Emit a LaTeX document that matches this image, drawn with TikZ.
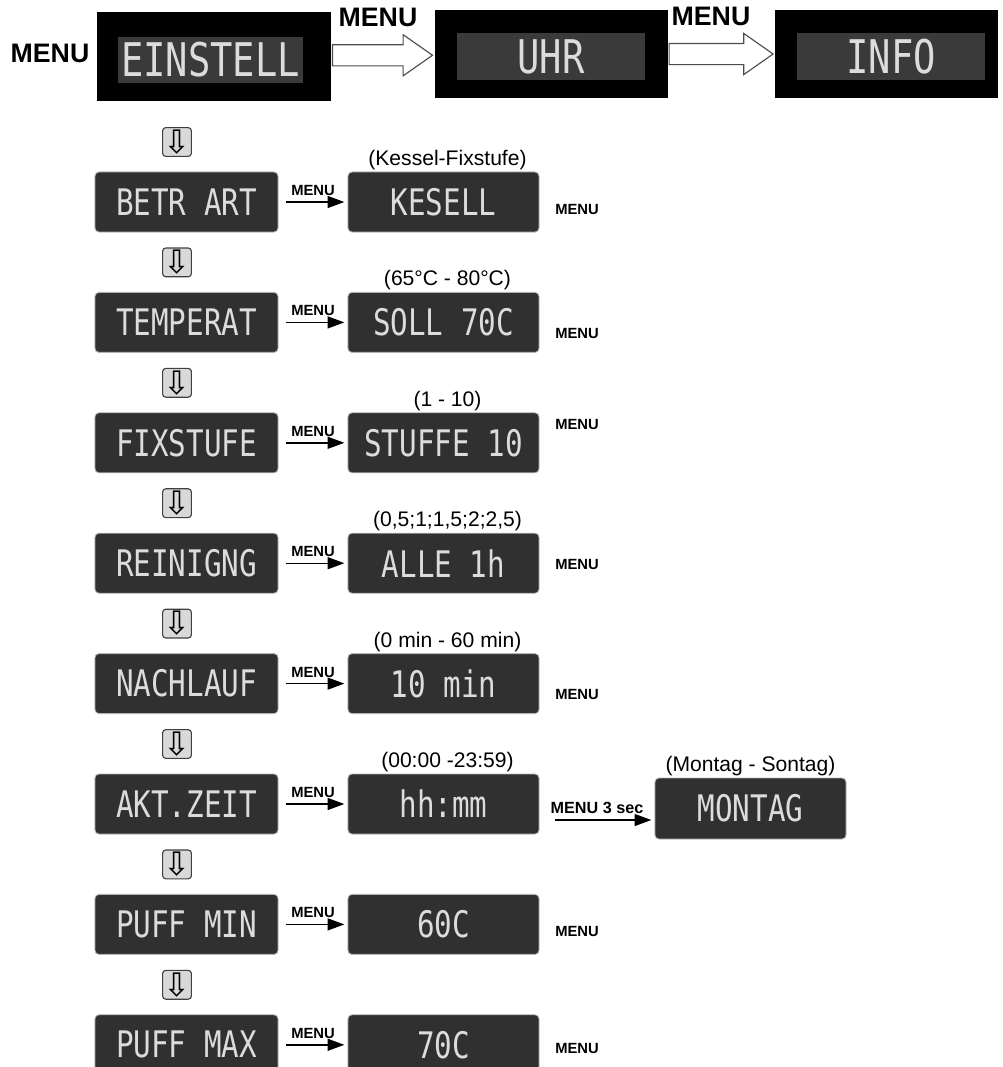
\documentclass[tikz,border=0pt]{standalone}
\usepackage{fontspec}
\setmainfont{Liberation Sans}
\newfontfamily\lcdfont{DejaVu Sans Mono}
\newfontfamily\symfont{DejaVu Sans}
\usepackage{graphicx}
\usetikzlibrary{calc, arrows.meta, positioning, shapes.arrows}
\definecolor{lcdbg}{HTML}{303030}
\definecolor{lcdtxt}{HTML}{DCDCDC}
\definecolor{scrbg}{HTML}{3A3A3A}
\newcommand{\lcd}[2][26]{\scalebox{0.8}[1]{\lcdfont\fontsize{#1}{#1}\selectfont #2}}

\begin{document}
\begin{tikzpicture}[x=0.025cm, y=-0.025cm,
  frame/.style={fill=black, minimum width=5.83cm, minimum height=2.2cm, inner sep=0pt},
  screen/.style={fill=scrbg, text=lcdtxt, minimum width=4.7cm, minimum height=1.17cm, inner sep=0pt},
  lcdbox/.style={rounded corners=0.1cm, draw=gray!60, line width=0.6pt, fill=lcdbg, text=lcdtxt, minimum width=4.575cm, minimum height=1.5cm, inner sep=0pt},
  valbox/.style={lcdbox, minimum width=4.775cm},
  downkey/.style={rounded corners=0.08cm, draw=black!75, line width=0.8pt, fill=gray!30, minimum size=0.72cm, inner sep=0pt, font=\symfont\fontsize{23}{23}\selectfont},
  hollow/.style={single arrow, draw=black!70, line width=0.8pt, fill=white, minimum width=1cm, single arrow head extend=0.25cm, single arrow tip angle=70, inner xsep=0pt, inner ysep=0.25cm},
  link/.style={line width=1pt, -{Triangle[length=0.42cm, width=0.3cm]}, shorten <=0.18cm, shorten >=0.08cm},
  key/.style={font=\bfseries\fontsize{10.5}{12}\selectfont},
  bigkey/.style={font=\bfseries\fontsize{19}{22}\selectfont, inner sep=0pt},
  spanlabel/.style={font=\fontsize{15}{17}\selectfont, inner sep=1pt, xshift=0.1cm}]
  \clip (0,0) rectangle (1002,1067);
  \fill[white] (0,0) rectangle (1002,1067);

  % top menu level
  \node[frame, minimum width=5.85cm, minimum height=2.225cm] (einstellF) at (214,56.5) {};
  \node[screen, minimum width=4.6cm, minimum height=1.15cm] (einstell) at (210.5,60) {\lcd[33]{EINSTELL}};
  \node[frame] (uhrF) at (551.5,54) {};
  \node[screen] (uhr) at (551,56.5) {\lcd[33]{UHR}};
  \node[frame, minimum width=5.575cm] (infoF) at (886.5,54) {};
  \node[screen] (info) at (891,56.5) {\lcd[33]{INFO}};
  \node[bigkey] (menu0) at (50,53) {MENU};
  \node[hollow, minimum height=2.5cm, xshift=-0.2cm] (arr1) at ($(einstellF.east)!0.5!(uhrF.west)$) {};
  \node[hollow, minimum height=2.6cm, xshift=-0.2cm] (arr2) at ($(uhrF.east)!0.5!(infoF.west)$) {};
  \node[bigkey] (menu1) at (378,17) {MENU};
  \node[bigkey] (menu2) at (711,16) {MENU};

  % Betriebsart
  \node[downkey] (k0) at (177,142) {⇩};
  \node[lcdbox] (betr) at (186.5,202) {\lcd{BETR ART}};
  \node[valbox] (kesell) at (443.5,202) {\lcd{KESELL}};
  \node[spanlabel, above=0pt of kesell] (r0) {(Kessel-Fixstufe)};
  \draw[link] (betr) -- node[key, above, inner sep=4pt] (m0) {MENU} (kesell);
  \node[key] (n0) at (577,209) {MENU};

  % Temperatur
  \node[downkey] (k1) at (177,262.4) {⇩};
  \node[lcdbox] (temp) at (186.5,322.4) {\lcd{TEMPERAT}};
  \node[valbox] (soll) at (443.5,322.4) {\lcd{SOLL 70C}};
  \node[spanlabel, above=0pt of soll] (r1) {(65°C - 80°C)};
  \draw[link] (temp) -- node[key, above, inner sep=4pt] (m1) {MENU} (soll);
  \node[key] (n1) at (577,333) {MENU};

  % Fixstufe
  \node[downkey] (k2) at (177,382.8) {⇩};
  \node[lcdbox] (fix) at (186.5,442.8) {\lcd{FIXSTUFE}};
  \node[valbox] (stufe) at (443.5,442.8) {\lcd{STUFFE 10}};
  \node[spanlabel, above=0pt of stufe] (r2) {(1 - 10)};
  \draw[link] (fix) -- node[key, above, inner sep=4pt] (m2) {MENU} (stufe);
  \node[key] (n2) at (577,424) {MENU};

  % Reinigung
  \node[downkey] (k3) at (177,503.2) {⇩};
  \node[lcdbox] (rein) at (186.5,563.2) {\lcd{REINIGNG}};
  \node[valbox] (alle) at (443.5,563.2) {\lcd{ALLE 1h}};
  \node[spanlabel, above=0pt of alle] (r3) {(0,5;1;1,5;2;2,5)};
  \draw[link] (rein) -- node[key, above, inner sep=4pt] (m3) {MENU} (alle);
  \node[key] (n3) at (577,564) {MENU};

  % Nachlauf
  \node[downkey] (k4) at (177,623.6) {⇩};
  \node[lcdbox] (nach) at (186.5,683.6) {\lcd{NACHLAUF}};
  \node[valbox] (min10) at (443.5,683.6) {\lcd{10 min}};
  \node[spanlabel, above=0pt of min10] (r4) {(0 min - 60 min)};
  \draw[link] (nach) -- node[key, above, inner sep=4pt] (m4) {MENU} (min10);
  \node[key] (n4) at (577,694) {MENU};

  % Uhrzeit und Wochentag
  \node[downkey] (k5) at (177,744) {⇩};
  \node[lcdbox] (zeit) at (186.5,804) {\lcd{AKT.ZEIT}};
  \node[valbox] (hhmm) at (443.5,804) {\lcd{hh:mm}};
  \node[spanlabel, above=0pt of hhmm] (r5) {(00:00 -23:59)};
  \draw[link] (zeit) -- node[key, above, inner sep=4pt] (m5) {MENU} (hhmm);
  \node[valbox, minimum height=1.525cm] (montag) at (750.5,808.5) {\lcd{MONTAG}};
  \node[spanlabel, above=0pt of montag, xshift=-0.1cm] (r5b) {(Montag - Sontag)};
  \draw[link, shorten <=0.4cm] ([yshift=-0.4cm]hhmm.east) -- ([yshift=-0.4cm]hhmm.east -| montag.west)
    node[key, midway, above, inner sep=4pt, font=\bfseries\fontsize{11.5}{13}\selectfont] (m5b) {MENU 3 sec};

  % Puffer min
  \node[downkey] (k6) at (177,864.4) {⇩};
  \node[lcdbox] (pmin) at (186.5,924.4) {\lcd{PUFF MIN}};
  \node[valbox] (v60) at (443.5,924.4) {\lcd{60C}};
  \draw[link] (pmin) -- node[key, above, inner sep=4pt] (m6) {MENU} (v60);
  \node[key] (n6) at (577,931) {MENU};

  % Puffer max
  \node[downkey] (k7) at (177,984.8) {⇩};
  \node[lcdbox] (pmax) at (186.5,1044.8) {\lcd{PUFF MAX}};
  \node[valbox] (v70) at (443.5,1044.8) {\lcd{70C}};
  \draw[link] (pmax) -- node[key, above, inner sep=4pt] (m7) {MENU} (v70);
  \node[key] (n7) at (577,1048) {MENU};
\end{tikzpicture}
\end{document}
